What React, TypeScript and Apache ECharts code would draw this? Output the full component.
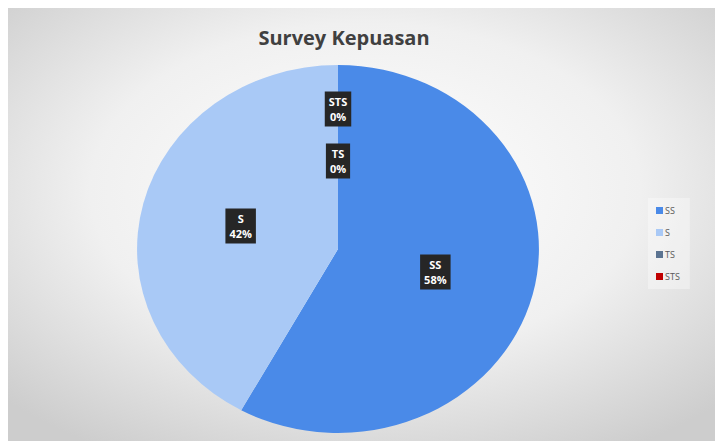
import React, { useEffect, useRef } from "react";
import * as echarts from "echarts";

const categories = ["SS", "S", "TS", "STS"];
const values = [58, 42, 0, 0];
const colors = ["#4a8ae8", "#a9c9f6", "#5b7391", "#c00000"];
const labelOffsets = [[0, 0], [0, 0], [0, 4], [0, -48]];

const CX = 330;
const CY = 241;
const RX = 201;
const RY = 184;

export default function App() {
  const ref = useRef<HTMLDivElement>(null);
  useEffect(() => {
    const chart = echarts.init(ref.current!, null, { renderer: "svg" });
    const total = values.reduce((a, b) => a + b, 0);
    const starts: number[] = [];
    let acc = 0;
    values.forEach((v) => {
      starts.push(acc);
      acc += v;
    });

    const series = categories.map((name, i) => ({
      type: "custom",
      name,
      coordinateSystem: "none",
      itemStyle: { color: colors[i] },
      data: [[i]],
      renderItem: () => {
        const a0 = -Math.PI / 2 + (starts[i] / total) * Math.PI * 2;
        const a1 = -Math.PI / 2 + ((starts[i] + values[i]) / total) * Math.PI * 2;
        const mid = (a0 + a1) / 2;
        const pct = Math.round((values[i] / total) * 100);
        const children: any[] = [];
        if (values[i] > 0) {
          children.push({
            type: "group",
            x: CX,
            y: CY,
            scaleX: RX / RY,
            children: [
              {
                type: "sector",
                shape: { cx: 0, cy: 0, r0: 0, r: RY, startAngle: a0, endAngle: a1, clockwise: true },
                style: { fill: colors[i], stroke: "none" },
              },
            ],
          });
        }
        children.push({
          type: "text",
          z2: 100,
          x: CX + Math.cos(mid) * RX * 0.5 + labelOffsets[i][0],
          y: CY + Math.sin(mid) * RY * 0.5 + labelOffsets[i][1],
          style: {
            text: `${name}\n${pct}%`,
            fill: "#ffffff",
            font: 'bold 11px "Open Sans"',
            lineHeight: 15,
            align: "center",
            verticalAlign: "middle",
            backgroundColor: "#262626",
            padding: [3, 4, 2, 4],
          },
        });
        return { type: "group", children };
      },
    }));

    chart.setOption({
      animation: false,
      backgroundColor: new echarts.graphic.RadialGradient(0.5, 0.42, 0.7, [
        { offset: 0, color: "#ffffff" },
        { offset: 0.55, color: "#f0f0f0" },
        { offset: 1, color: "#cdcdcd" },
      ]),
      title: {
        text: "Survey Kepuasan",
        left: 331,
        top: 14,
        textAlign: "center",
        textStyle: { fontFamily: "Open Sans", fontSize: 20, fontWeight: "bold", color: "#404040" },
      },
      legend: {
        orient: "vertical",
        left: 640,
        top: 190,
        itemWidth: 7,
        itemHeight: 7,
        itemGap: 13,
        icon: "rect",
        padding: [8, 10, 8, 8],
        backgroundColor: "rgba(255,255,255,0.35)",
        textStyle: { fontFamily: "Open Sans", fontSize: 9, color: "#595959", padding: [0, 0, 0, -3] },
        data: categories,
      },
      series,
    });
    return () => chart.dispose();
  }, []);
  return <div ref={ref} style={{ width: 715, height: 433 }} />;
}
